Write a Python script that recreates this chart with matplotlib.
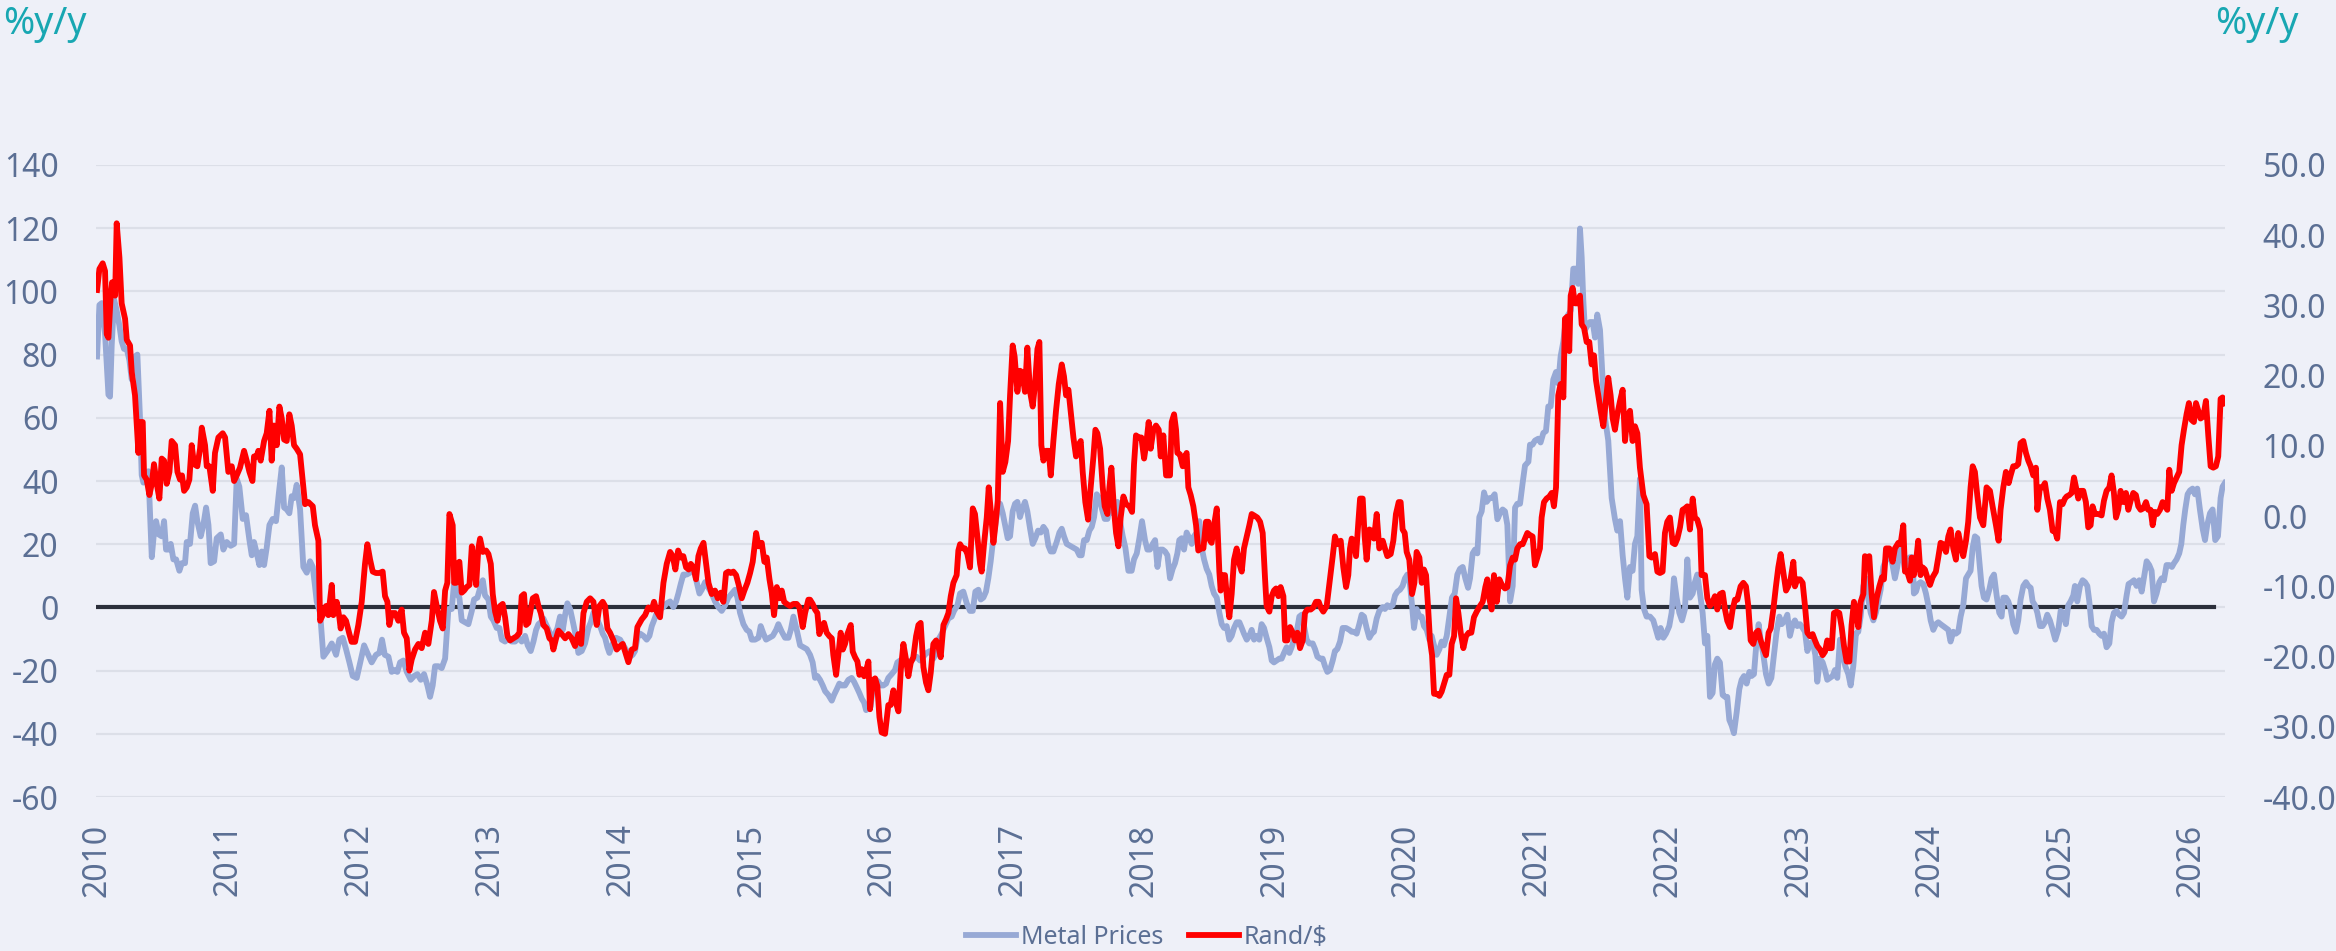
import matplotlib
matplotlib.use('Agg')
import matplotlib.pyplot as plt

plt.rcParams['font.family'] = ['Noto Sans', 'DejaVu Sans']
plt.rcParams['axes.unicode_minus'] = False

# Metal prices, %y/y (left axis): (decimal year, value)
metal_points = [
    (2010.000, 79.4), (2010.018, 95.7), (2010.036, 96.3), (2010.061, 86.6), (2010.087, 67.3),
    (2010.099, 66.7), (2010.112, 83.0), (2010.130, 97.5), (2010.150, 93.9), (2010.171, 89.1),
    (2010.188, 84.2), (2010.206, 81.8), (2010.227, 81.8), (2010.247, 78.2), (2010.265, 72.1),
    (2010.290, 79.4), (2010.308, 80.0), (2010.328, 60.0), (2010.341, 41.9), (2010.354, 39.5),
    (2010.374, 40.7), (2010.392, 43.1), (2010.418, 15.9), (2010.435, 23.7), (2010.451, 27.3),
    (2010.471, 23.1), (2010.494, 22.5), (2010.512, 27.3), (2010.527, 18.3), (2010.545, 18.3),
    (2010.563, 20.1), (2010.583, 15.2), (2010.604, 15.2), (2010.629, 11.6), (2010.647, 14.0),
    (2010.672, 14.0), (2010.685, 20.7), (2010.710, 20.1), (2010.731, 29.8), (2010.749, 32.2),
    (2010.766, 27.3), (2010.792, 22.5), (2010.812, 26.1), (2010.833, 31.6), (2010.851, 26.1),
    (2010.868, 14.0), (2010.894, 14.6), (2010.914, 21.9), (2010.945, 23.1), (2010.965, 18.3),
    (2010.991, 20.7), (2011.021, 19.5), (2011.047, 20.1), (2011.067, 40.7), (2011.087, 38.2),
    (2011.113, 28.0), (2011.138, 29.2), (2011.164, 21.3), (2011.182, 16.5), (2011.199, 20.7),
    (2011.220, 17.1), (2011.240, 13.4), (2011.258, 17.7), (2011.276, 13.4), (2011.296, 18.9),
    (2011.317, 26.1), (2011.342, 28.0), (2011.367, 27.3), (2011.388, 35.8), (2011.411, 44.3),
    (2011.429, 31.6), (2011.449, 31.0), (2011.469, 29.8), (2011.487, 35.2), (2011.505, 34.6),
    (2011.525, 38.8), (2011.551, 31.0), (2011.576, 12.8), (2011.602, 11.0), (2011.627, 14.6),
    (2011.648, 12.8), (2011.665, 6.8), (2011.678, 1.9), (2011.704, -1.7), (2011.729, -15.6),
    (2011.760, -13.8), (2011.793, -11.4), (2011.826, -15.0), (2011.851, -10.2), (2011.877, -9.6),
    (2011.902, -13.2), (2011.928, -17.4), (2011.953, -21.7), (2011.984, -22.3), (2012.014, -16.8),
    (2012.040, -12.0), (2012.065, -14.4), (2012.098, -17.4), (2012.131, -15.0), (2012.157, -14.4),
    (2012.177, -10.2), (2012.198, -15.0), (2012.226, -15.6), (2012.251, -20.4), (2012.269, -19.8),
    (2012.294, -20.4), (2012.315, -17.4), (2012.340, -16.8), (2012.366, -20.4), (2012.396, -22.9),
    (2012.422, -21.7), (2012.447, -21.1), (2012.473, -22.9), (2012.498, -21.1), (2012.524, -24.7),
    (2012.544, -28.3), (2012.564, -24.7), (2012.582, -18.6), (2012.608, -18.6), (2012.633, -19.2),
    (2012.659, -16.2), (2012.684, -0.5),
    (2012.710, -0.5), (2012.728, 8.0), (2012.748, 4.4), (2012.768, 3.1), (2012.786, -4.1),
    (2012.812, -4.7), (2012.837, -5.3), (2012.863, -1.1), (2012.880, 2.5), (2012.906, 3.1),
    (2012.931, 6.8), (2012.947, 8.6), (2012.964, 3.8), (2012.990, 2.5), (2013.008, -2.9),
    (2013.028, -4.1), (2013.053, -6.5), (2013.074, -6.5), (2013.092, -10.2), (2013.117, -10.8),
    (2013.143, -9.6), (2013.168, -10.8), (2013.194, -10.8), (2013.219, -9.6), (2013.244, -10.8),
    (2013.270, -9.0), (2013.290, -12.0), (2013.313, -13.8), (2013.334, -10.8), (2013.354, -7.1),
    (2013.372, -5.3), (2013.390, -4.7), (2013.410, -3.5), (2013.430, -5.3), (2013.456, -7.7),
    (2013.474, -9.6), (2013.499, -8.3), (2013.517, -6.5), (2013.537, -2.9), (2013.558, -7.1),
    (2013.576, -2.3), (2013.593, 1.3), (2013.614, -0.5), (2013.639, -5.3), (2013.660, -9.6),
    (2013.677, -14.4), (2013.703, -13.8), (2013.728, -11.4), (2013.754, -6.5), (2013.772, -4.7),
    (2013.792, -1.7), (2013.817, -3.5), (2013.843, -5.9), (2013.863, -8.3), (2013.881, -9.6),
    (2013.899, -12.6), (2013.914, -14.4), (2013.940, -11.4), (2013.965, -9.6), (2013.996, -10.2),
    (2014.021, -12.0), (2014.047, -13.8), (2014.072, -15.6), (2014.092, -15.0), (2014.110, -13.8),
    (2014.128, -9.6), (2014.149, -8.3), (2014.174, -9.0), (2014.199, -10.2), (2014.220, -9.0),
    (2014.238, -5.9), (2014.255, -4.1), (2014.276, -1.7), (2014.301, -0.5), (2014.327, 0.1),
    (2014.352, 1.3), (2014.378, 1.9), (2014.403, 0.1), (2014.424, 1.9), (2014.441, 4.4),
    (2014.459, 7.4), (2014.479, 10.4), (2014.505, 10.4), (2014.530, 11.0), (2014.556, 12.8),
    (2014.581, 8.0), (2014.602, 4.4), (2014.620, 5.6), (2014.645, 8.0), (2014.671, 6.2),
    (2014.696, 4.4), (2014.721, 1.9), (2014.747, 0.1), (2014.772, -1.1), (2014.798, 0.7),
    (2014.823, 3.1), (2014.849, 4.4), (2014.874, 5.6), (2014.892, 3.1), (2014.912, -1.7),
    (2014.938, -5.3), (2014.963, -7.1), (2014.984, -7.7), (2015.002, -10.2), (2015.027, -10.2),
    (2015.053, -9.6), (2015.070, -5.9), (2015.091, -8.3), (2015.111, -10.2), (2015.137, -9.6),
    (2015.162, -9.0), (2015.188, -7.1), (2015.205, -5.3), (2015.231, -7.7), (2015.256, -9.6),
    (2015.282, -9.6), (2015.300, -7.1), (2015.320, -2.9), (2015.345, -7.1), (2015.371, -12.0),
    (2015.396, -12.6), (2015.422, -13.2),
    (2015.447, -15.0), (2015.467, -17.4), (2015.485, -22.3), (2015.503, -21.7), (2015.523, -22.9),
    (2015.544, -24.7), (2015.562, -26.5), (2015.587, -27.7), (2015.613, -29.5), (2015.630, -27.7),
    (2015.651, -25.9), (2015.671, -24.1), (2015.689, -24.7), (2015.714, -24.7), (2015.740, -22.9),
    (2015.765, -22.3), (2015.783, -23.5), (2015.804, -25.3), (2015.824, -27.1), (2015.842, -28.9),
    (2015.860, -30.1), (2015.875, -32.5), (2015.893, -31.9), (2015.910, -31.3), (2015.931, -23.5),
    (2015.951, -22.9), (2015.969, -23.5), (2015.987, -24.7), (2016.007, -24.7), (2016.028, -24.1),
    (2016.045, -22.3), (2016.071, -21.1), (2016.096, -19.8), (2016.114, -17.4), (2016.135, -16.8),
    (2016.160, -16.8), (2016.185, -16.8), (2016.211, -17.4), (2016.236, -16.2), (2016.262, -15.6),
    (2016.287, -16.8), (2016.313, -15.6), (2016.338, -14.4), (2016.364, -13.8), (2016.389, -16.2),
    (2016.410, -14.4), (2016.427, -10.2), (2016.453, -8.3), (2016.478, -5.9), (2016.504, -3.5),
    (2016.529, -2.9), (2016.547, -1.1), (2016.573, 0.7), (2016.593, 4.4), (2016.618, 5.0),
    (2016.644, 1.3), (2016.669, -1.1), (2016.690, -1.1), (2016.710, 5.0), (2016.733, 5.6),
    (2016.751, 2.5), (2016.771, 3.1), (2016.791, 5.0), (2016.809, 9.2), (2016.827, 14.6),
    (2016.842, 20.1), (2016.860, 25.5), (2016.878, 30.4), (2016.899, 32.8), (2016.919, 29.8),
    (2016.937, 26.1), (2016.957, 21.9), (2016.975, 22.5), (2016.995, 30.4), (2017.013, 32.8),
    (2017.031, 33.4), (2017.051, 28.6), (2017.067, 31.0), (2017.089, 33.4), (2017.107, 30.4),
    (2017.128, 24.9), (2017.148, 20.1), (2017.168, 21.9), (2017.189, 24.3), (2017.209, 23.7),
    (2017.230, 25.5), (2017.250, 24.3), (2017.268, 19.5), (2017.286, 17.7), (2017.306, 17.7),
    (2017.331, 20.7), (2017.352, 23.7), (2017.370, 24.9), (2017.387, 22.5), (2017.408, 20.1),
    (2017.433, 19.5), (2017.459, 18.9), (2017.484, 18.3), (2017.505, 16.5), (2017.522, 16.5),
    (2017.540, 21.3), (2017.561, 21.3), (2017.581, 24.3), (2017.599, 25.5), (2017.617, 28.6),
    (2017.637, 35.8), (2017.657, 34.6), (2017.678, 31.0), (2017.698, 28.0), (2017.719, 28.0),
    (2017.739, 32.2), (2017.759, 29.8), (2017.777, 31.6), (2017.795, 33.4), (2017.815, 27.3),
    (2017.836, 22.5), (2017.856, 18.9), (2017.879, 11.6), (2017.904, 11.6), (2017.922, 15.2),
    (2017.943, 17.1), (2017.963, 21.9), (2017.983, 27.3), (2018.006, 21.3), (2018.024, 18.3),
    (2018.044, 18.3), (2018.065, 20.1), (2018.083, 21.3), (2018.101, 12.8), (2018.121, 18.3),
    (2018.141, 18.3), (2018.159, 17.7), (2018.177, 16.5),
    (2018.197, 9.2), (2018.217, 12.2), (2018.235, 14.0), (2018.253, 17.1), (2018.268, 21.3),
    (2018.286, 21.9), (2018.304, 18.3), (2018.324, 23.7), (2018.345, 21.9), (2018.363, 20.1),
    (2018.380, 22.5), (2018.401, 23.7), (2018.421, 27.3), (2018.439, 18.9), (2018.457, 15.2),
    (2018.477, 12.2), (2018.497, 10.4), (2018.515, 6.8), (2018.533, 4.4), (2018.554, 3.1),
    (2018.574, -1.7), (2018.592, -5.3), (2018.610, -6.5), (2018.630, -5.9), (2018.650, -10.2),
    (2018.668, -9.0), (2018.686, -6.5), (2018.706, -4.7), (2018.727, -4.7), (2018.745, -6.5),
    (2018.762, -8.3), (2018.783, -10.2), (2018.803, -9.0), (2018.821, -7.1), (2018.839, -10.2),
    (2018.859, -9.0), (2018.879, -10.2), (2018.897, -5.3), (2018.915, -6.5), (2018.935, -9.6),
    (2018.956, -12.6), (2018.974, -16.8), (2018.991, -17.4), (2019.012, -16.8), (2019.032, -16.2),
    (2019.050, -16.2), (2019.068, -14.4), (2019.088, -12.6), (2019.109, -14.4), (2019.126, -12.6),
    (2019.144, -10.2), (2019.165, -7.7), (2019.185, -2.9), (2019.203, -2.3), (2019.221, -5.9),
    (2019.241, -10.2), (2019.261, -11.4), (2019.287, -11.4), (2019.305, -13.2), (2019.323, -15.6),
    (2019.343, -16.2), (2019.363, -16.2), (2019.381, -18.6), (2019.399, -20.4), (2019.419, -19.8),
    (2019.440, -16.8), (2019.457, -13.8), (2019.475, -13.2), (2019.496, -10.8), (2019.516, -6.5),
    (2019.541, -6.5), (2019.567, -7.1), (2019.585, -7.7), (2019.603, -7.7), (2019.623, -8.3),
    (2019.643, -5.3), (2019.661, -2.3), (2019.679, -2.9), (2019.699, -6.5), (2019.720, -9.6),
    (2019.738, -8.3), (2019.755, -7.7), (2019.776, -3.5), (2019.796, -1.1), (2019.822, 0.1),
    (2019.839, -0.5), (2019.857, 0.7), (2019.878, 0.1), (2019.898, 0.7), (2019.916, 3.8),
    (2019.934, 5.0), (2019.954, 5.6), (2019.974, 6.8), (2019.992, 9.2), (2020.010, 10.4),
    (2020.025, 9.2), (2020.043, 1.9), (2020.061, -6.5), (2020.081, -0.5), (2020.102, -2.9),
    (2020.120, -2.9), (2020.137, -5.9), (2020.158, -7.1), (2020.178, -10.2), (2020.196, -9.0),
    (2020.214, -12.0), (2020.234, -15.0), (2020.255, -13.2), (2020.272, -10.8), (2020.290, -12.0),
    (2020.311, -9.0), (2020.331, -2.9), (2020.351, 3.1), (2020.372, 4.4), (2020.392, 10.4),
    (2020.412, 12.2), (2020.433, 12.8), (2020.453, 9.2), (2020.474, 6.2), (2020.489, 9.2),
    (2020.509, 17.1), (2020.527, 18.3), (2020.545, 17.1), (2020.560, 28.6), (2020.578, 30.4),
    (2020.596, 36.4), (2020.616, 33.4), (2020.637, 34.6), (2020.657, 34.6), (2020.677, 35.8),
    (2020.698, 27.9), (2020.718, 29.8), (2020.738, 31.0), (2020.756, 30.4), (2020.774, 26.1),
    (2020.795, 1.9), (2020.815, 6.8), (2020.833, 31.6), (2020.850, 32.8), (2020.871, 32.8),
    (2020.891, 39.4), (2020.909, 44.9), (2020.935, 46.1), (2020.947, 51.5),
    (2020.967, 51.5), (2020.985, 52.8), (2021.011, 53.4), (2021.028, 52.2), (2021.049, 55.2),
    (2021.069, 55.8), (2021.087, 63.6), (2021.105, 63.6), (2021.125, 72.1), (2021.146, 74.5),
    (2021.163, 70.9), (2021.181, 79.4), (2021.202, 84.2), (2021.222, 91.5), (2021.240, 92.7),
    (2021.258, 93.9), (2021.278, 107.2), (2021.298, 107.2), (2021.316, 102.4), (2021.329, 119.9),
    (2021.342, 110.8), (2021.354, 97.5), (2021.367, 87.8), (2021.385, 89.1), (2021.405, 90.3),
    (2021.426, 90.3), (2021.444, 85.4), (2021.461, 92.7), (2021.482, 87.8), (2021.502, 72.1),
    (2021.520, 60.0), (2021.545, 52.8), (2021.571, 34.6), (2021.596, 28.0), (2021.614, 24.3),
    (2021.635, 27.3), (2021.655, 16.5), (2021.673, 9.2), (2021.691, 3.1), (2021.711, 12.8),
    (2021.731, 11.6), (2021.749, 20.1), (2021.767, 22.5), (2021.787, 40.7), (2021.800, 5.6),
    (2021.818, -0.5), (2021.838, -2.9), (2021.864, -2.9), (2021.889, -4.1), (2021.910, -7.1),
    (2021.927, -9.6), (2021.945, -6.5), (2021.966, -9.6), (2021.986, -8.3), (2022.011, -5.9),
    (2022.029, -1.7), (2022.047, 9.2), (2022.067, 3.1), (2022.088, -1.7), (2022.108, -4.1),
    (2022.131, -0.5), (2022.149, 15.2), (2022.169, 3.1), (2022.190, 4.4), (2022.207, 8.0),
    (2022.225, 10.4), (2022.246, 4.4), (2022.266, -1.7), (2022.284, -11.4), (2022.302, -9.0),
    (2022.322, -28.3), (2022.342, -27.1), (2022.360, -18.0), (2022.378, -16.2), (2022.398, -17.4),
    (2022.419, -27.7), (2022.437, -28.3), (2022.454, -28.3), (2022.470, -35.6), (2022.488, -37.4),
    (2022.505, -39.8), (2022.526, -33.2), (2022.546, -25.9), (2022.564, -22.9), (2022.582, -21.7),
    (2022.602, -24.1), (2022.623, -20.4), (2022.640, -21.7), (2022.658, -21.1), (2022.679, -10.2),
    (2022.694, -5.3), (2022.709, -10.2), (2022.730, -15.0), (2022.750, -21.1), (2022.770, -24.1),
    (2022.791, -22.3), (2022.811, -15.0), (2022.831, -7.7), (2022.852, -2.9), (2022.870, -5.3),
    (2022.895, -4.1), (2022.913, -2.3), (2022.933, -9.0), (2022.954, -5.3), (2022.971, -4.1),
    (2022.989, -5.9), (2023.010, -5.3), (2023.030, -6.5), (2023.048, -7.7), (2023.066, -13.8),
    (2023.086, -11.4), (2023.106, -10.8), (2023.127, -15.0), (2023.142, -23.5), (2023.163, -16.2),
    (2023.183, -17.4), (2023.201, -19.8), (2023.218, -22.9), (2023.239, -22.3), (2023.259, -21.7),
    (2023.277, -19.8), (2023.295, -22.3), (2023.315, -10.2), (2023.336, -15.0), (2023.356, -18.6),
    (2023.379, -21.1), (2023.397, -24.7), (2023.417, -18.6), (2023.437, -8.3), (2023.455, -7.7),
    (2023.473, -2.9), (2023.494, 6.8), (2023.514, 9.2), (2023.532, 2.5), (2023.550, -1.7),
    (2023.570, -4.1), (2023.590, -1.7), (2023.608, 1.9), (2023.626, 5.6), (2023.646, 12.8),
    (2023.667, 15.2), (2023.692, 17.0),
    (2023.717, 13.4), (2023.735, 9.2), (2023.753, 12.8), (2023.773, 18.9), (2023.794, 16.5),
    (2023.812, 11.6), (2023.829, 15.2), (2023.850, 15.9), (2023.870, 15.9), (2023.880, 4.4),
    (2023.896, 5.0), (2023.913, 7.4), (2023.931, 8.0), (2023.952, 7.4), (2023.972, 4.4),
    (2023.990, 0.7), (2024.008, -4.1), (2024.028, -7.1), (2024.048, -5.3), (2024.066, -4.7),
    (2024.084, -5.3), (2024.104, -5.9), (2024.125, -6.5), (2024.143, -7.1), (2024.160, -10.8),
    (2024.181, -7.7), (2024.201, -8.3), (2024.219, -7.7), (2024.237, -2.9), (2024.257, 0.7),
    (2024.278, 9.2), (2024.295, 10.4), (2024.313, 11.6), (2024.329, 18.9), (2024.346, 22.5),
    (2024.364, 21.9), (2024.379, 15.2), (2024.397, 6.8), (2024.415, 3.1), (2024.435, 2.5),
    (2024.456, 5.6), (2024.474, 9.2), (2024.492, 10.4), (2024.512, 3.8), (2024.532, -1.7),
    (2024.550, -2.9), (2024.563, 3.1), (2024.583, 3.1), (2024.601, 1.9), (2024.619, -0.5),
    (2024.639, -5.3), (2024.660, -7.7), (2024.677, -4.1), (2024.695, 2.5), (2024.716, 6.8),
    (2024.736, 8.0), (2024.754, 6.8), (2024.772, 6.2), (2024.787, 1.9), (2024.805, 0.7),
    (2024.823, -1.7), (2024.843, -5.9), (2024.863, -5.9), (2024.881, -4.7), (2024.899, -2.3),
    (2024.919, -4.1), (2024.940, -7.1), (2024.960, -10.2), (2024.983, -7.1), (2025.001, -1.1),
    (2025.021, -1.7), (2025.041, -5.3), (2025.059, 0.7), (2025.077, 1.9), (2025.098, 3.8),
    (2025.110, 6.8), (2025.128, 1.9), (2025.149, 6.8), (2025.169, 8.6), (2025.187, 8.0),
    (2025.205, 6.8), (2025.220, 1.9), (2025.238, -5.9), (2025.256, -7.1), (2025.276, -7.1),
    (2025.296, -8.3), (2025.314, -9.0), (2025.332, -8.3), (2025.352, -12.6), (2025.373, -11.4),
    (2025.390, -4.7), (2025.408, -1.7), (2025.429, -1.1), (2025.449, -2.3), (2025.467, -2.9),
    (2025.485, -1.7), (2025.505, 3.8), (2025.520, 7.4), (2025.543, 8.0), (2025.561, 8.6),
    (2025.581, 6.8), (2025.602, 8.6), (2025.620, 5.0), (2025.637, 9.2), (2025.658, 14.6),
    (2025.678, 13.4), (2025.696, 11.6), (2025.714, 1.9), (2025.734, 4.4), (2025.755, 8.0),
    (2025.772, 9.2), (2025.790, 8.6), (2025.810, 13.4), (2025.831, 13.4), (2025.851, 12.8),
    (2025.867, 14.0), (2025.887, 15.2), (2025.907, 17.1), (2025.923, 20.1), (2025.938, 26.1),
    (2025.953, 31.0), (2025.971, 35.8), (2025.989, 37.0), (2026.009, 37.6), (2026.027, 35.8),
    (2026.045, 37.6), (2026.065, 31.0), (2026.086, 24.9), (2026.104, 21.3), (2026.121, 26.1),
    (2026.142, 29.8), (2026.162, 31.0), (2026.182, 21.3), (2026.203, 22.5), (2026.223, 34.6),
    (2026.238, 38.2), (2026.256, 39.4),
]

# Rand/$, %y/y (right axis): (decimal year, value)
rand_points = [
    (2010.000, 32.2), (2010.018, 35.2), (2010.043, 36.0), (2010.061, 34.9), (2010.074, 25.9),
    (2010.087, 25.4), (2010.104, 31.4), (2010.115, 33.3), (2010.138, 31.4), (2010.150, 41.7),
    (2010.171, 36.8), (2010.188, 30.3), (2010.214, 28.1), (2010.227, 25.1), (2010.252, 24.3),
    (2010.265, 20.5), (2010.290, 17.2), (2010.316, 9.0), (2010.328, 13.4), (2010.349, 13.4),
    (2010.359, 5.8), (2010.379, 5.2), (2010.400, 3.0), (2010.418, 4.6), (2010.435, 7.4),
    (2010.456, 4.6), (2010.476, 2.5), (2010.494, 8.2), (2010.512, 7.9), (2010.532, 4.6),
    (2010.553, 6.3), (2010.570, 10.7), (2010.596, 10.1), (2010.614, 6.3), (2010.634, 5.2),
    (2010.649, 5.8), (2010.665, 3.6), (2010.685, 4.1), (2010.705, 5.2), (2010.723, 10.1),
    (2010.741, 7.4), (2010.766, 7.1), (2010.787, 9.6), (2010.800, 12.6), (2010.825, 10.1),
    (2010.838, 7.1), (2010.858, 7.1), (2010.884, 3.6), (2010.901, 9.0), (2010.927, 11.2),
    (2010.960, 11.8), (2010.978, 11.2), (2011.003, 6.3), (2011.029, 7.1), (2011.047, 5.0),
    (2011.067, 5.8), (2011.092, 6.9), (2011.123, 9.3), (2011.143, 7.9), (2011.164, 6.3),
    (2011.187, 5.0), (2011.199, 8.5), (2011.220, 8.5), (2011.232, 9.3), (2011.250, 7.9),
    (2011.266, 9.6), (2011.276, 10.7), (2011.296, 11.8), (2011.317, 15.0), (2011.334, 7.9),
    (2011.352, 12.9), (2011.373, 10.1), (2011.393, 15.6), (2011.411, 13.9), (2011.429, 10.9),
    (2011.449, 10.7), (2011.469, 14.5), (2011.487, 12.9), (2011.505, 10.1), (2011.525, 9.6),
    (2011.551, 8.8), (2011.576, 4.1), (2011.589, 1.7), (2011.614, 2.0), (2011.648, 1.4),
    (2011.665, -1.3), (2011.691, -3.5), (2011.704, -14.9), (2011.724, -14.1), (2011.749, -12.8),
    (2011.767, -14.1), (2011.793, -9.8), (2011.805, -14.1), (2011.831, -12.2), (2011.851, -14.4),
    (2011.861, -16.0), (2011.882, -14.4), (2011.902, -14.9), (2011.928, -16.8), (2011.945, -17.9),
    (2011.971, -17.9), (2011.996, -15.5), (2012.022, -12.2), (2012.047, -6.8), (2012.065, -4.0),
    (2012.086, -6.2), (2012.106, -7.9), (2012.131, -8.1), (2012.157, -8.1), (2012.182, -7.9),
    (2012.200, -11.4), (2012.218, -12.2), (2012.233, -15.5), (2012.251, -13.8), (2012.277, -13.8),
    (2012.302, -14.9), (2012.327, -13.3), (2012.345, -16.6), (2012.366, -17.4), (2012.386, -22.0),
    (2012.404, -20.4), (2012.429, -19.0), (2012.455, -18.2), (2012.480, -18.8), (2012.506, -16.6),
    (2012.531, -18.2), (2012.557, -14.9), (2012.574, -10.8), (2012.595, -12.8), (2012.620, -14.9),
    (2012.641, -16.0), (2012.659, -10.6), (2012.676, -9.5), (2012.692, 0.3),
    (2012.717, -1.3), (2012.728, -9.5), (2012.743, -9.5), (2012.753, -6.8), (2012.768, -6.5),
    (2012.786, -10.9), (2012.804, -10.6), (2012.824, -10.1), (2012.845, -9.8), (2012.863, -4.3),
    (2012.880, -6.8), (2012.896, -9.8), (2012.913, -4.6), (2012.926, -3.2), (2012.947, -5.1),
    (2012.972, -4.9), (2012.990, -5.4), (2013.008, -6.8), (2013.023, -11.1), (2013.041, -13.6),
    (2013.059, -14.9), (2013.079, -12.8), (2013.099, -12.5), (2013.117, -14.4), (2013.135, -17.1),
    (2013.155, -17.7), (2013.181, -17.4), (2013.206, -17.1), (2013.227, -16.6), (2013.244, -11.4),
    (2013.262, -11.1), (2013.278, -15.5), (2013.295, -15.2), (2013.313, -13.3), (2013.329, -11.7),
    (2013.354, -11.4), (2013.372, -12.8), (2013.390, -13.8), (2013.410, -15.5), (2013.435, -16.0),
    (2013.456, -17.4), (2013.474, -17.7), (2013.486, -19.0), (2013.507, -17.4), (2013.525, -16.3),
    (2013.550, -16.8), (2013.576, -17.4), (2013.601, -16.8), (2013.626, -17.4), (2013.652, -18.5),
    (2013.677, -16.8), (2013.698, -18.2), (2013.716, -13.8), (2013.741, -12.2), (2013.767, -11.7),
    (2013.792, -12.2), (2013.817, -15.5), (2013.838, -12.8), (2013.863, -12.2), (2013.881, -12.8),
    (2013.899, -16.0), (2013.919, -16.6), (2013.945, -17.7), (2013.970, -19.0), (2013.996, -18.5),
    (2014.016, -18.2), (2014.034, -19.3), (2014.059, -20.8), (2014.085, -19.0), (2014.110, -18.8),
    (2014.128, -15.8), (2014.161, -14.7), (2014.187, -14.1), (2014.212, -13.0), (2014.238, -13.3),
    (2014.255, -12.2), (2014.276, -13.6), (2014.301, -14.4), (2014.327, -9.5), (2014.352, -6.8),
    (2014.378, -5.1), (2014.398, -5.7), (2014.418, -7.6), (2014.439, -4.9), (2014.459, -5.9),
    (2014.479, -5.7), (2014.500, -7.3), (2014.520, -7.6), (2014.536, -6.8), (2014.556, -7.3),
    (2014.576, -9.0), (2014.594, -5.7), (2014.612, -4.6), (2014.633, -3.8), (2014.653, -6.8),
    (2014.671, -9.5), (2014.696, -11.1), (2014.721, -10.6), (2014.742, -11.7), (2014.765, -10.9),
    (2014.785, -12.2), (2014.805, -8.1), (2014.823, -7.9), (2014.841, -8.1), (2014.861, -7.9),
    (2014.882, -8.4), (2014.902, -9.8), (2014.925, -11.7), (2014.945, -10.6), (2014.968, -9.5),
    (2014.989, -8.1), (2015.009, -6.5), (2015.035, -2.4), (2015.053, -4.3), (2015.078, -3.8),
    (2015.098, -6.5), (2015.116, -5.9), (2015.137, -9.0), (2015.154, -10.9), (2015.172, -14.1),
    (2015.193, -10.1), (2015.213, -11.7), (2015.231, -10.6), (2015.249, -12.2), (2015.269, -12.5),
    (2015.294, -12.8), (2015.320, -12.5), (2015.345, -12.5), (2015.366, -13.0), (2015.391, -15.8),
    (2015.409, -13.8), (2015.434, -11.9),
    (2015.447, -11.9), (2015.467, -12.5), (2015.485, -13.3), (2015.503, -13.8), (2015.518, -16.8),
    (2015.536, -15.8), (2015.554, -15.2), (2015.574, -16.6), (2015.595, -17.1), (2015.613, -17.4),
    (2015.625, -19.8), (2015.646, -22.6), (2015.663, -19.8), (2015.681, -16.6), (2015.697, -19.0),
    (2015.714, -18.2), (2015.732, -16.8), (2015.758, -15.5), (2015.773, -19.3), (2015.791, -20.1),
    (2015.809, -20.7), (2015.824, -22.6), (2015.842, -21.8), (2015.860, -22.8), (2015.875, -22.0),
    (2015.893, -20.7), (2015.905, -27.5), (2015.926, -23.4), (2015.944, -23.1), (2015.961, -24.2),
    (2015.977, -28.6), (2015.994, -30.8), (2016.020, -31.0), (2016.045, -26.9), (2016.063, -26.9),
    (2016.084, -24.8), (2016.096, -26.1), (2016.122, -27.8), (2016.140, -22.0), (2016.160, -18.2),
    (2016.180, -20.4), (2016.198, -22.8), (2016.216, -20.9), (2016.236, -20.1), (2016.257, -17.1),
    (2016.275, -15.5), (2016.292, -15.2), (2016.313, -21.5), (2016.333, -23.7), (2016.351, -24.8),
    (2016.369, -22.3), (2016.389, -18.2), (2016.410, -17.7), (2016.427, -18.5), (2016.445, -20.1),
    (2016.466, -15.5), (2016.486, -14.7), (2016.504, -13.8), (2016.522, -11.4), (2016.542, -9.5),
    (2016.567, -8.4), (2016.580, -4.9), (2016.593, -4.0), (2016.613, -4.6), (2016.631, -4.6),
    (2016.649, -5.4), (2016.669, -7.3), (2016.690, 1.1), (2016.707, 0.3), (2016.725, -2.9),
    (2016.746, -6.8), (2016.758, -7.9), (2016.776, -4.0), (2016.797, -0.2), (2016.812, 4.1),
    (2016.827, 0.9), (2016.848, -3.8), (2016.863, -1.3), (2016.881, 2.2), (2016.899, 16.1),
    (2016.919, 6.3), (2016.939, 7.7), (2016.960, 10.7), (2016.975, 17.2), (2016.995, 24.3),
    (2017.010, 22.7), (2017.031, 17.7), (2017.051, 20.7), (2017.067, 20.5), (2017.089, 17.7),
    (2017.107, 24.0), (2017.128, 17.7), (2017.148, 15.6), (2017.166, 18.8), (2017.184, 23.8),
    (2017.199, 24.8), (2017.214, 10.1), (2017.230, 7.9), (2017.250, 9.3), (2017.270, 9.3),
    (2017.286, 5.8), (2017.306, 10.7), (2017.326, 15.0), (2017.347, 18.8), (2017.370, 21.6),
    (2017.387, 19.9), (2017.403, 17.2), (2017.421, 18.0), (2017.438, 15.0), (2017.459, 11.2),
    (2017.479, 8.5), (2017.499, 10.1), (2017.515, 10.7), (2017.530, 6.3), (2017.550, 2.0),
    (2017.571, -0.5), (2017.591, 4.1), (2017.612, 8.5), (2017.627, 12.3), (2017.642, 11.8),
    (2017.663, 9.6), (2017.683, 4.1), (2017.698, 1.4), (2017.719, 0.3), (2017.734, 4.1),
    (2017.749, 6.9), (2017.769, 0.9), (2017.785, -2.4), (2017.803, -4.3), (2017.820, -0.2),
    (2017.841, 2.8), (2017.861, 1.7), (2017.886, 1.4), (2017.907, 0.6), (2017.922, 7.4),
    (2017.937, 11.5), (2017.958, 11.2), (2017.978, 11.2), (2017.999, 8.2), (2018.014, 10.1),
    (2018.034, 13.4), (2018.049, 9.6), (2018.070, 12.3), (2018.090, 12.9), (2018.111, 12.3),
    (2018.126, 8.5), (2018.146, 11.5), (2018.167, 5.8), (2018.184, 5.8),
    (2018.197, 5.8), (2018.210, 13.4), (2018.228, 14.5), (2018.243, 12.3), (2018.253, 9.0),
    (2018.273, 8.8), (2018.294, 7.1), (2018.312, 8.5), (2018.324, 9.0), (2018.337, 4.1),
    (2018.355, 3.0), (2018.375, 1.4), (2018.396, -1.3), (2018.413, -4.9), (2018.431, -4.6),
    (2018.452, -4.6), (2018.472, -0.8), (2018.490, -0.8), (2018.503, -3.5), (2018.515, -3.8),
    (2018.533, -1.3), (2018.554, 1.1), (2018.574, -7.9), (2018.584, -10.6), (2018.599, -8.4),
    (2018.617, -8.4), (2018.635, -12.2), (2018.650, -14.4), (2018.668, -11.1), (2018.686, -6.2),
    (2018.706, -4.6), (2018.727, -6.8), (2018.745, -7.9), (2018.762, -4.6), (2018.783, -2.9),
    (2018.803, -1.3), (2018.821, 0.3), (2018.839, 0.1), (2018.864, -0.2), (2018.885, -0.8),
    (2018.905, -2.4), (2018.923, -8.9), (2018.935, -12.8), (2018.956, -13.6), (2018.974, -11.4),
    (2018.991, -10.6), (2019.007, -10.3), (2019.025, -11.4), (2019.042, -10.1), (2019.063, -11.4),
    (2019.076, -17.7), (2019.093, -17.7), (2019.114, -15.8), (2019.134, -16.6), (2019.152, -17.7),
    (2019.170, -16.6), (2019.190, -18.8), (2019.211, -17.7), (2019.228, -13.8), (2019.246, -13.3),
    (2019.272, -13.3), (2019.292, -13.0), (2019.312, -12.2), (2019.333, -12.2), (2019.348, -13.0),
    (2019.368, -13.6), (2019.394, -12.8), (2019.419, -9.0), (2019.440, -5.7), (2019.457, -2.9),
    (2019.475, -4.0), (2019.501, -3.5), (2019.521, -7.3), (2019.542, -10.1), (2019.559, -8.4),
    (2019.572, -4.6), (2019.585, -3.2), (2019.603, -3.5), (2019.618, -5.7), (2019.636, -0.8),
    (2019.649, 2.5), (2019.669, 2.5), (2019.684, -2.9), (2019.699, -6.2), (2019.720, -1.9),
    (2019.738, -2.1), (2019.755, -3.2), (2019.776, 0.3), (2019.796, -4.6), (2019.822, -3.5),
    (2019.839, -4.6), (2019.857, -5.7), (2019.883, -5.4), (2019.903, -3.5), (2019.923, 0.3),
    (2019.944, 2.0), (2019.959, 2.0), (2019.974, -1.9), (2019.990, -2.4), (2020.005, -5.1),
    (2020.025, -6.2), (2020.046, -11.1), (2020.064, -9.5), (2020.081, -5.1), (2020.102, -5.9),
    (2020.120, -9.5), (2020.137, -7.6), (2020.153, -8.4), (2020.168, -12.8), (2020.183, -17.7),
    (2020.199, -19.8), (2020.214, -25.3), (2020.234, -25.3), (2020.255, -25.6), (2020.272, -25.0),
    (2020.290, -23.9), (2020.311, -22.6), (2020.331, -22.6), (2020.349, -18.2), (2020.367, -17.1),
    (2020.382, -11.7), (2020.400, -13.8), (2020.418, -16.6), (2020.438, -18.8), (2020.458, -17.1),
    (2020.479, -16.6), (2020.499, -16.6), (2020.519, -14.4), (2020.540, -13.6), (2020.565, -12.8),
    (2020.586, -12.2), (2020.606, -10.1), (2020.621, -9.0), (2020.636, -11.7), (2020.654, -13.3),
    (2020.672, -8.4), (2020.693, -12.2), (2020.713, -9.0), (2020.733, -9.8), (2020.756, -10.3),
    (2020.774, -10.1), (2020.795, -7.0), (2020.815, -5.9), (2020.833, -6.2), (2020.850, -4.6),
    (2020.871, -4.0), (2020.891, -4.0), (2020.909, -3.2), (2020.927, -2.4), (2020.947, -2.7),
    (2020.967, -2.9), (2020.985, -7.0), (2021.003, -5.9), (2021.023, -4.6), (2021.036, -0.2),
    (2021.054, 2.0), (2021.074, 2.5), (2021.095, 2.8), (2021.113, 3.3), (2021.130, 1.4),
    (2021.146, 4.1), (2021.163, 17.2), (2021.181, 18.8), (2021.202, 16.9), (2021.214, 28.1),
    (2021.232, 28.4), (2021.247, 23.5), (2021.258, 31.4), (2021.273, 32.5), (2021.291, 30.3),
    (2021.309, 30.3), (2021.329, 31.4), (2021.342, 27.3), (2021.360, 26.8), (2021.380, 24.8),
    (2021.400, 24.8), (2021.418, 21.6), (2021.436, 22.9), (2021.451, 19.4), (2021.469, 17.2),
    (2021.487, 15.0), (2021.507, 12.8), (2021.528, 16.7), (2021.545, 19.7), (2021.563, 17.2),
    (2021.579, 13.9), (2021.596, 12.3), (2021.614, 14.5), (2021.635, 16.4), (2021.655, 18.0),
    (2021.673, 10.7), (2021.691, 14.2), (2021.711, 15.0), (2021.731, 10.7), (2021.749, 12.8),
    (2021.767, 11.8), (2021.787, 6.9), (2021.813, 3.0), (2021.838, 1.7), (2021.859, -5.7),
    (2021.876, -5.9), (2021.902, -5.4), (2021.920, -7.9), (2021.940, -8.1), (2021.960, -7.9),
    (2021.978, -2.4), (2021.996, -0.8), (2022.016, -0.2), (2022.037, -3.8), (2022.055, -4.0),
    (2022.073, -3.2), (2022.093, -1.6), (2022.113, 0.9), (2022.131, 1.1), (2022.149, 1.4),
    (2022.169, -1.9), (2022.190, 2.5), (2022.207, -0.2), (2022.225, -0.5), (2022.246, -1.9),
    (2022.258, -8.4), (2022.284, -8.4), (2022.302, -11.7), (2022.322, -12.8), (2022.342, -12.2),
    (2022.360, -11.4), (2022.378, -13.3), (2022.398, -11.1), (2022.419, -10.9), (2022.437, -13.3),
    (2022.454, -14.9), (2022.475, -15.8), (2022.495, -13.3), (2022.513, -11.9), (2022.531, -11.9),
    (2022.556, -10.0), (2022.577, -9.5), (2022.597, -10.0), (2022.615, -12.8), (2022.633, -17.7),
    (2022.653, -18.2), (2022.674, -16.6), (2022.691, -16.3), (2022.709, -17.7), (2022.730, -18.8),
    (2022.750, -19.8), (2022.770, -16.6), (2022.786, -16.0), (2022.806, -13.3), (2022.826, -10.0),
    (2022.844, -7.3), (2022.862, -5.4), (2022.882, -7.9), (2022.903, -10.6), (2022.920, -10.0),
    (2022.938, -9.0), (2022.959, -6.5), (2022.971, -10.0), (2022.989, -9.0), (2023.010, -9.0),
    (2023.030, -9.5), (2023.048, -12.8), (2023.066, -16.6), (2023.086, -17.1), (2023.106, -16.8),
    (2023.124, -17.7), (2023.142, -18.5), (2023.163, -19.0), (2023.183, -19.8), (2023.201, -19.3),
    (2023.218, -17.7), (2023.234, -18.8), (2023.252, -18.8), (2023.269, -13.8), (2023.290, -13.6),
    (2023.310, -13.8), (2023.328, -15.8), (2023.346, -18.5), (2023.366, -20.7), (2023.387, -20.7),
    (2023.404, -15.5), (2023.422, -12.2), (2023.437, -13.3), (2023.455, -15.8), (2023.473, -12.2),
    (2023.494, -11.1), (2023.506, -5.7), (2023.524, -5.9), (2023.539, -5.7), (2023.557, -11.1),
    (2023.575, -14.4), (2023.595, -11.7), (2023.616, -10.0), (2023.636, -8.7), (2023.651, -9.0),
    (2023.667, -4.6), (2023.692, -4.6),
    (2023.717, -6.5), (2023.735, -4.6), (2023.761, -3.8), (2023.778, -4.0), (2023.799, -1.3),
    (2023.812, -7.9), (2023.829, -7.9), (2023.850, -9.2), (2023.863, -5.9), (2023.880, -8.4),
    (2023.896, -6.5), (2023.913, -3.5), (2023.931, -8.4), (2023.947, -7.3), (2023.964, -7.6),
    (2023.982, -8.7), (2024.003, -9.8), (2024.023, -8.7), (2024.048, -7.9), (2024.066, -5.9),
    (2024.084, -3.8), (2024.104, -4.0), (2024.125, -5.1), (2024.143, -2.9), (2024.160, -1.9),
    (2024.181, -4.6), (2024.201, -6.2), (2024.219, -2.4), (2024.237, -4.0), (2024.257, -5.7),
    (2024.278, -3.5), (2024.295, -0.8), (2024.313, 4.1), (2024.329, 7.1), (2024.346, 6.3),
    (2024.364, 3.0), (2024.385, -0.2), (2024.410, -1.3), (2024.435, 4.1), (2024.461, 3.6),
    (2024.481, 1.4), (2024.507, -1.3), (2024.527, -3.5), (2024.542, 0.9), (2024.563, 4.1),
    (2024.583, 6.3), (2024.604, 4.7), (2024.619, 5.8), (2024.639, 7.1), (2024.660, 7.1),
    (2024.677, 7.4), (2024.695, 10.4), (2024.716, 10.7), (2024.736, 9.0), (2024.754, 7.9),
    (2024.772, 7.1), (2024.792, 5.8), (2024.812, 6.9), (2024.823, 0.9), (2024.843, 4.1),
    (2024.863, 4.1), (2024.881, 4.7), (2024.899, 2.5), (2024.919, 0.9), (2024.940, -2.1),
    (2024.958, -2.1), (2024.975, -3.2), (2024.996, 2.0), (2025.016, 1.7), (2025.034, 2.5),
    (2025.047, 2.8), (2025.067, 3.0), (2025.085, 3.3), (2025.103, 5.5), (2025.118, 4.1),
    (2025.136, 2.5), (2025.154, 3.6), (2025.174, 3.6), (2025.194, 2.0), (2025.212, -1.6),
    (2025.230, -1.3), (2025.245, 1.4), (2025.263, 0.3), (2025.289, 0.3), (2025.314, 0.1),
    (2025.332, 2.2), (2025.352, 3.6), (2025.373, 4.1), (2025.390, 5.8), (2025.408, 3.3),
    (2025.424, -0.2), (2025.441, 0.9), (2025.459, 3.6), (2025.480, 2.0), (2025.500, 3.3),
    (2025.518, 0.9), (2025.536, 2.2), (2025.556, 3.3), (2025.576, 3.0), (2025.594, 1.4),
    (2025.612, 0.9), (2025.632, 1.1), (2025.653, 2.0), (2025.670, 0.9), (2025.688, 0.9),
    (2025.704, -1.3), (2025.721, 0.6), (2025.739, 0.3), (2025.760, 0.9), (2025.780, 2.0),
    (2025.798, 1.4), (2025.816, 0.9), (2025.831, 6.6), (2025.849, 3.6), (2025.867, 4.7),
    (2025.887, 5.5), (2025.907, 6.3), (2025.925, 10.1), (2025.943, 12.3), (2025.963, 14.5),
    (2025.981, 16.1), (2026.001, 13.7), (2026.019, 13.4), (2026.035, 16.1), (2026.053, 15.0),
    (2026.070, 13.9), (2026.091, 14.2), (2026.111, 16.4), (2026.129, 11.5), (2026.147, 7.1),
    (2026.167, 6.9), (2026.187, 7.1), (2026.205, 8.5), (2026.223, 16.7), (2026.238, 16.9),
    (2026.256, 16.1),
]

year_ticks = list(range(2010, 2027))
left_ticks = list(range(-60, 141, 20))
right_ticks = list(range(-40, 51, 10))

BG = '#eef0f8'
TICK_COLOR = '#5b6f94'
UNIT_COLOR = '#18a7b2'
GRID_COLOR = '#dcdfe8'
METAL_COLOR = '#97a9d5'
RAND_COLOR = '#ff0000'
ZERO_COLOR = '#2b2f3b'

metal_t = [p[0] for p in metal_points]
metal_v = [p[1] for p in metal_points]
rand_t = [p[0] for p in rand_points]
rand_v = [p[1] for p in rand_points]

fig = plt.figure(figsize=(23.36, 9.51), dpi=100, facecolor=BG)
ax = fig.add_axes([0.0411, 0.1619, 0.9114, 0.6646])
ax.set_facecolor(BG)

ax.set_xlim(2009.992, 2026.257)
ax.set_ylim(-60, 140)
ax.set_yticks(left_ticks)
ax.set_xticks(year_ticks)
ax.set_xticklabels([str(y) for y in year_ticks], rotation=90)
ax.grid(axis='y', color=GRID_COLOR, linewidth=1.6)
ax.set_axisbelow(True)

ax.axhline(0, xmin=0, xmax=0.995, color=ZERO_COLOR, linewidth=3.0, zorder=2)
ax.plot(metal_t, metal_v, color=METAL_COLOR, linewidth=4.2, zorder=3,
        solid_joinstyle='round', label='Metal Prices')

ax2 = ax.twinx()
ax2.set_ylim(-40, 50)
ax2.set_yticks(right_ticks)
ax2.set_yticklabels([f'{v:.1f}' for v in right_ticks])
ax2.plot(rand_t, rand_v, color=RAND_COLOR, linewidth=4.2, zorder=3,
         solid_joinstyle='round', label='Rand/$')

for a in (ax, ax2):
    for s in a.spines.values():
        s.set_visible(False)
ax.tick_params(axis='both', length=0, labelsize=23, labelcolor=TICK_COLOR)
ax.tick_params(axis='y', pad=27)
ax.tick_params(axis='x', pad=19)
ax2.tick_params(axis='y', length=0, labelsize=23, labelcolor=TICK_COLOR, pad=27)

fig.text(0.0013, 0.995, '%y/y', ha='left', va='top', fontsize=27, color=UNIT_COLOR)
fig.text(0.984, 0.995, '%y/y', ha='right', va='top', fontsize=27, color=UNIT_COLOR)

h1, l1 = ax.get_legend_handles_labels()
h2, l2 = ax2.get_legend_handles_labels()
fig.legend(h1 + h2, l1 + l2, loc='center', bbox_to_anchor=(0.491, 0.0147), ncol=2,
           frameon=False, fontsize=18, labelcolor=TICK_COLOR, handlelength=2.0,
           handletextpad=0.2, columnspacing=1.0)

fig.savefig('out.png', dpi=100, facecolor=BG)
